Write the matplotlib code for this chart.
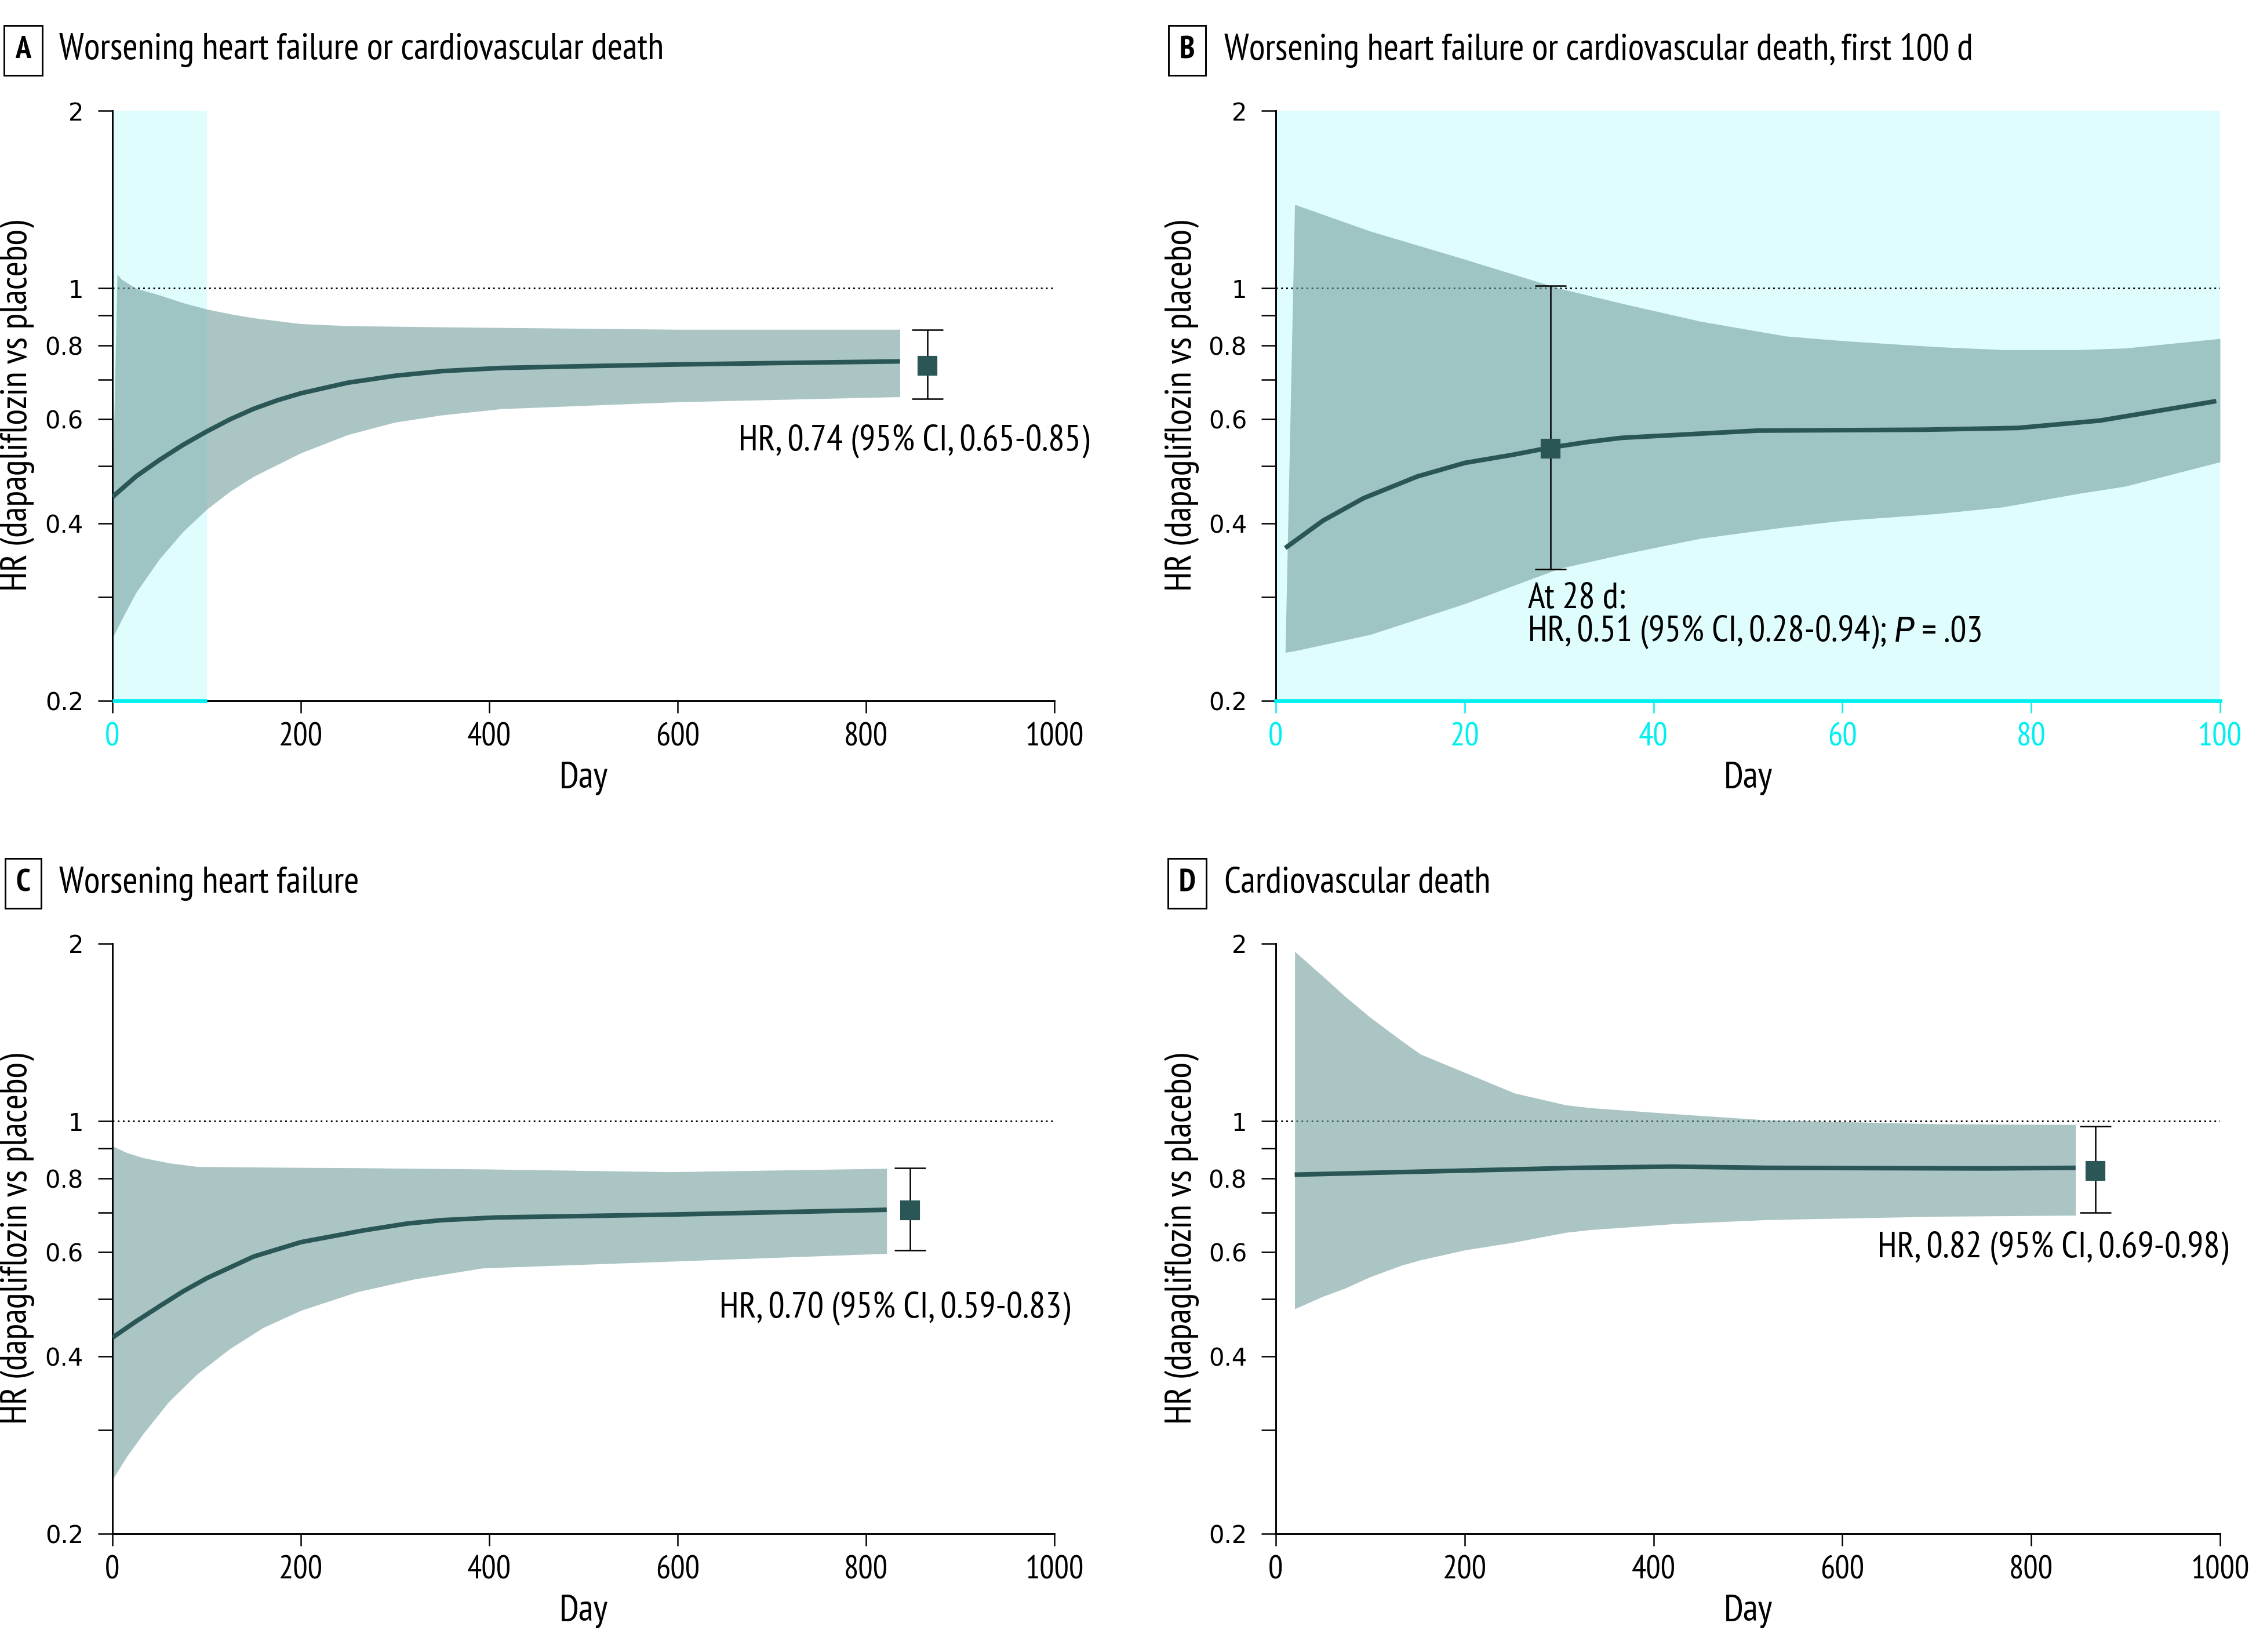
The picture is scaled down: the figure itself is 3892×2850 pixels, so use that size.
import matplotlib
matplotlib.use('Agg')
from matplotlib import pyplot as plt

plt.rcParams['font.family'] = ['PT Sans Narrow', 'Fira Sans Condensed', 'Roboto Condensed',
                               'Archivo Narrow', 'Asap Condensed', 'DejaVu Sans']

# ---- data ----
# A: worsening HF or CV death
a_line_day = [0, 25, 50, 75, 100, 125, 150, 175, 200, 250, 300, 350, 413, 500, 600, 700, 836]
a_line_hr = [0.443, 0.48, 0.512, 0.543, 0.572, 0.600, 0.625, 0.646, 0.664, 0.692, 0.711, 0.724,
             0.733, 0.738, 0.743, 0.747, 0.752]
a_band_day = [0, 5, 10, 25, 50, 75, 100, 125, 150, 200, 250, 300, 350, 413, 600, 836]
a_band_lo = [0.256, 0.265, 0.275, 0.305, 0.348, 0.387, 0.422, 0.453, 0.48, 0.526, 0.565, 0.593,
             0.61, 0.625, 0.642, 0.655]
a_band_hi = [0.45, 1.056, 1.035, 1.0, 0.974, 0.945, 0.922, 0.905, 0.891, 0.871, 0.864, 0.862,
             0.86, 0.858, 0.852, 0.852]
a_point = [865, 0.74, 0.65, 0.85]

# B: first 100 days
b_line_day = [1, 5, 9.3, 15, 20, 25, 29, 33, 36.6, 51, 68.6, 78.6, 87.3, 99.6]
b_line_hr = [0.363, 0.404, 0.441, 0.48, 0.506, 0.522, 0.537, 0.549, 0.558, 0.574, 0.576, 0.580,
             0.597, 0.644]
b_band_day = [1, 2, 10, 20, 30, 37, 45, 54, 60, 70, 77, 85, 90, 100]
b_band_lo = [0.2415, 0.243, 0.259, 0.292, 0.335, 0.355, 0.377, 0.394, 0.404, 0.415, 0.426, 0.449, 0.462, 0.508]
b_band_hi = [0.2415, 1.387, 1.25, 1.12, 1.00, 0.94, 0.879, 0.83, 0.815, 0.796, 0.787, 0.787, 0.792, 0.822]
b_point = [29.1, 0.535, 0.334, 1.01]

# C: worsening heart failure
c_line_day = [0, 25, 50, 75, 100, 150, 200, 266, 313, 350, 406, 593, 822]
c_line_hr = [0.430, 0.458, 0.486, 0.515, 0.542, 0.590, 0.624, 0.653, 0.671, 0.68, 0.687, 0.695, 0.708]
c_band_day = [0, 15, 33, 60, 90, 125, 160, 200, 260, 320, 393, 593, 822]
c_band_lo = [0.247, 0.27, 0.296, 0.335, 0.373, 0.412, 0.447, 0.478, 0.514, 0.54, 0.564, 0.579, 0.597]
c_band_hi = [0.908, 0.885, 0.867, 0.85, 0.838, 0.837, 0.836, 0.835, 0.834, 0.832, 0.830, 0.821, 0.832]
c_point = [847, 0.706, 0.604, 0.834]

# D: cardiovascular death
d_line_day = [20, 320, 420, 520, 753, 847]
d_line_hr = [0.812, 0.834, 0.838, 0.834, 0.832, 0.834]
d_band_day = [20, 50, 73, 100, 133, 153, 200, 253, 307, 333, 420, 520, 700, 847]
d_band_lo = [0.481, 0.505, 0.521, 0.545, 0.570, 0.582, 0.605, 0.624, 0.648, 0.655, 0.67, 0.681, 0.69, 0.693]
d_band_hi = [1.94, 1.76, 1.63, 1.50, 1.37, 1.30, 1.21, 1.116, 1.066, 1.054, 1.03, 1.005, 0.99, 0.987]
d_point = [868, 0.824, 0.701, 0.98]

yticks = [0.2, 0.3, 0.4, 0.5, 0.6, 0.7, 0.8, 0.9, 1, 2]
ytick_labels = ['0.2', '', '0.4', '', '0.6', '', '0.8', '', '1', '2']

LINE = '#2b5656'
BAND = '#709d9d'
HILITE = '#e0fdfd'
CYAN = '#00f0f0'
FS = 15

W, H = 3892, 2850
fig = plt.figure(figsize=(W / 300, H / 300), dpi=300)


def panel(rect, line_day, line_hr, band_day, band_lo, band_hi, point, xmax):
    ax = fig.add_axes(rect)
    ax.fill_between(band_day, band_lo, band_hi, color=BAND, alpha=0.59, lw=0, zorder=2)
    ax.plot(line_day, line_hr, color=LINE, lw=1.9, zorder=3, solid_capstyle='butt')
    ax.errorbar(point[0], point[1], yerr=[[point[1] - point[2]], [point[3] - point[1]]],
                fmt='none', ecolor='black', elinewidth=0.6, capsize=6.5, capthick=0.6, zorder=4)
    ax.plot(point[0], point[1], marker='s', ms=7, color=LINE, zorder=5)
    ax.axhline(1, color='black', lw=0.7, ls=(0, (1, 2)), zorder=1)
    ax.set_yscale('log')
    ax.set_ylim(0.2, 2)
    ax.set_xlim(0, xmax)
    ax.set_yticks(yticks)
    ax.set_yticklabels(ytick_labels, fontfamily='DejaVu Sans', fontsize=10)
    ax.minorticks_off()
    ax.set_xticks([xmax * i / 5 for i in range(6)])
    ax.set_xticklabels([str(int(xmax * i / 5)) for i in range(6)], fontsize=13.5)
    for s in ['top', 'right']:
        ax.spines[s].set_visible(False)
    ax.spines['left'].set_linewidth(0.7)
    ax.spines['bottom'].set_linewidth(0.7)
    ax.tick_params(axis='y', length=6, width=0.6, pad=6)
    ax.tick_params(axis='x', length=5, width=0.6, pad=4)
    ax.text(0.5, -0.1316, 'Day', transform=ax.transAxes, ha='center', va='center', fontsize=FS + 0.5)
    return ax


top_b = 1 - 1209 / H
bot_b = 1 - 2646 / H
ph = (1209 - 191) / H
lx = 194 / W
rx = 2201 / W
pw_l = (1819 - 194) / W
pw_r = (3830 - 2201) / W

axA = panel([lx, top_b, pw_l, ph], a_line_day, a_line_hr, a_band_day, a_band_lo, a_band_hi, a_point, 1000)
axA.axvspan(0, 100, color=HILITE, lw=0, zorder=0)
axA.plot([0, 100], [0.2, 0.2], color=CYAN, lw=1.6, clip_on=False, zorder=6, solid_capstyle='butt')
axA.get_xticklines()[0].set_color(CYAN)
axA.get_xticklabels()[0].set_color(CYAN)
axA.text(1037, 0.552, 'HR, 0.74 (95% CI, 0.65-0.85)', ha='right', va='center', fontsize=FS)

axB = panel([rx, top_b, pw_r, ph], b_line_day, b_line_hr, b_band_day, b_band_lo, b_band_hi, b_point, 100)
axB.set_facecolor(HILITE)
axB.spines['bottom'].set_color(CYAN)
axB.spines['bottom'].set_linewidth(1.6)
axB.tick_params(axis='x', colors=CYAN)
axB.text(26.7, 0.298, 'At 28 d:', ha='left', va='center', fontsize=FS)
t1 = axB.text(26.7, 0.262, 'HR, 0.51 (95% CI, 0.28-0.94); ', ha='left', va='center', fontsize=FS)
t2 = axB.annotate('P', xy=(1, 0), xycoords=t1, ha='left', va='bottom', fontsize=FS,
                  fontstyle='italic', fontfamily=['Archivo Narrow', 'DejaVu Sans'])
axB.annotate(' = .03', xy=(1, 0), xycoords=t2, ha='left', va='bottom', fontsize=FS)

axC = panel([lx, bot_b, pw_l, ph], c_line_day, c_line_hr, c_band_day, c_band_lo, c_band_hi, c_point, 1000)
axC.text(1017, 0.483, 'HR, 0.70 (95% CI, 0.59-0.83)', ha='right', va='center', fontsize=FS)

axD = panel([rx, bot_b, pw_r, ph], d_line_day, d_line_hr, d_band_day, d_band_lo, d_band_hi, d_point, 1000)
axD.text(1009, 0.611, 'HR, 0.82 (95% CI, 0.69-0.98)', ha='right', va='center', fontsize=FS)

# panel letters and titles
box = dict(boxstyle='square,pad=0.35', fc='white', ec='black', lw=0.7)
titles = [
    ('A', 40, 102, 87, 'Worsening heart failure or cardiovascular death'),
    ('B', 2048, 2112, 87, 'Worsening heart failure or cardiovascular death, first 100 d'),
    ('C', 40, 102, 1524, 'Worsening heart failure'),
    ('D', 2048, 2112, 1524, 'Cardiovascular death'),
]
for letter, bx, tx, ty, title in titles:
    fig.text(bx / W, 1 - ty / H, letter, ha='center', va='center', fontsize=13,
             fontweight='bold', bbox=box)
    fig.text(tx / W, 1 - ty / H, title, ha='left', va='center', fontsize=15.3)

ylab = 'HR (dapagliflozin vs placebo)'
for x, yc in [(31, 700), (2040, 700), (31, 2137), (2040, 2137)]:
    fig.text(x / W, 1 - yc / H, ylab, rotation=90, ha='center', va='center', fontsize=15.3)

fig.savefig('out.png', dpi=300)
